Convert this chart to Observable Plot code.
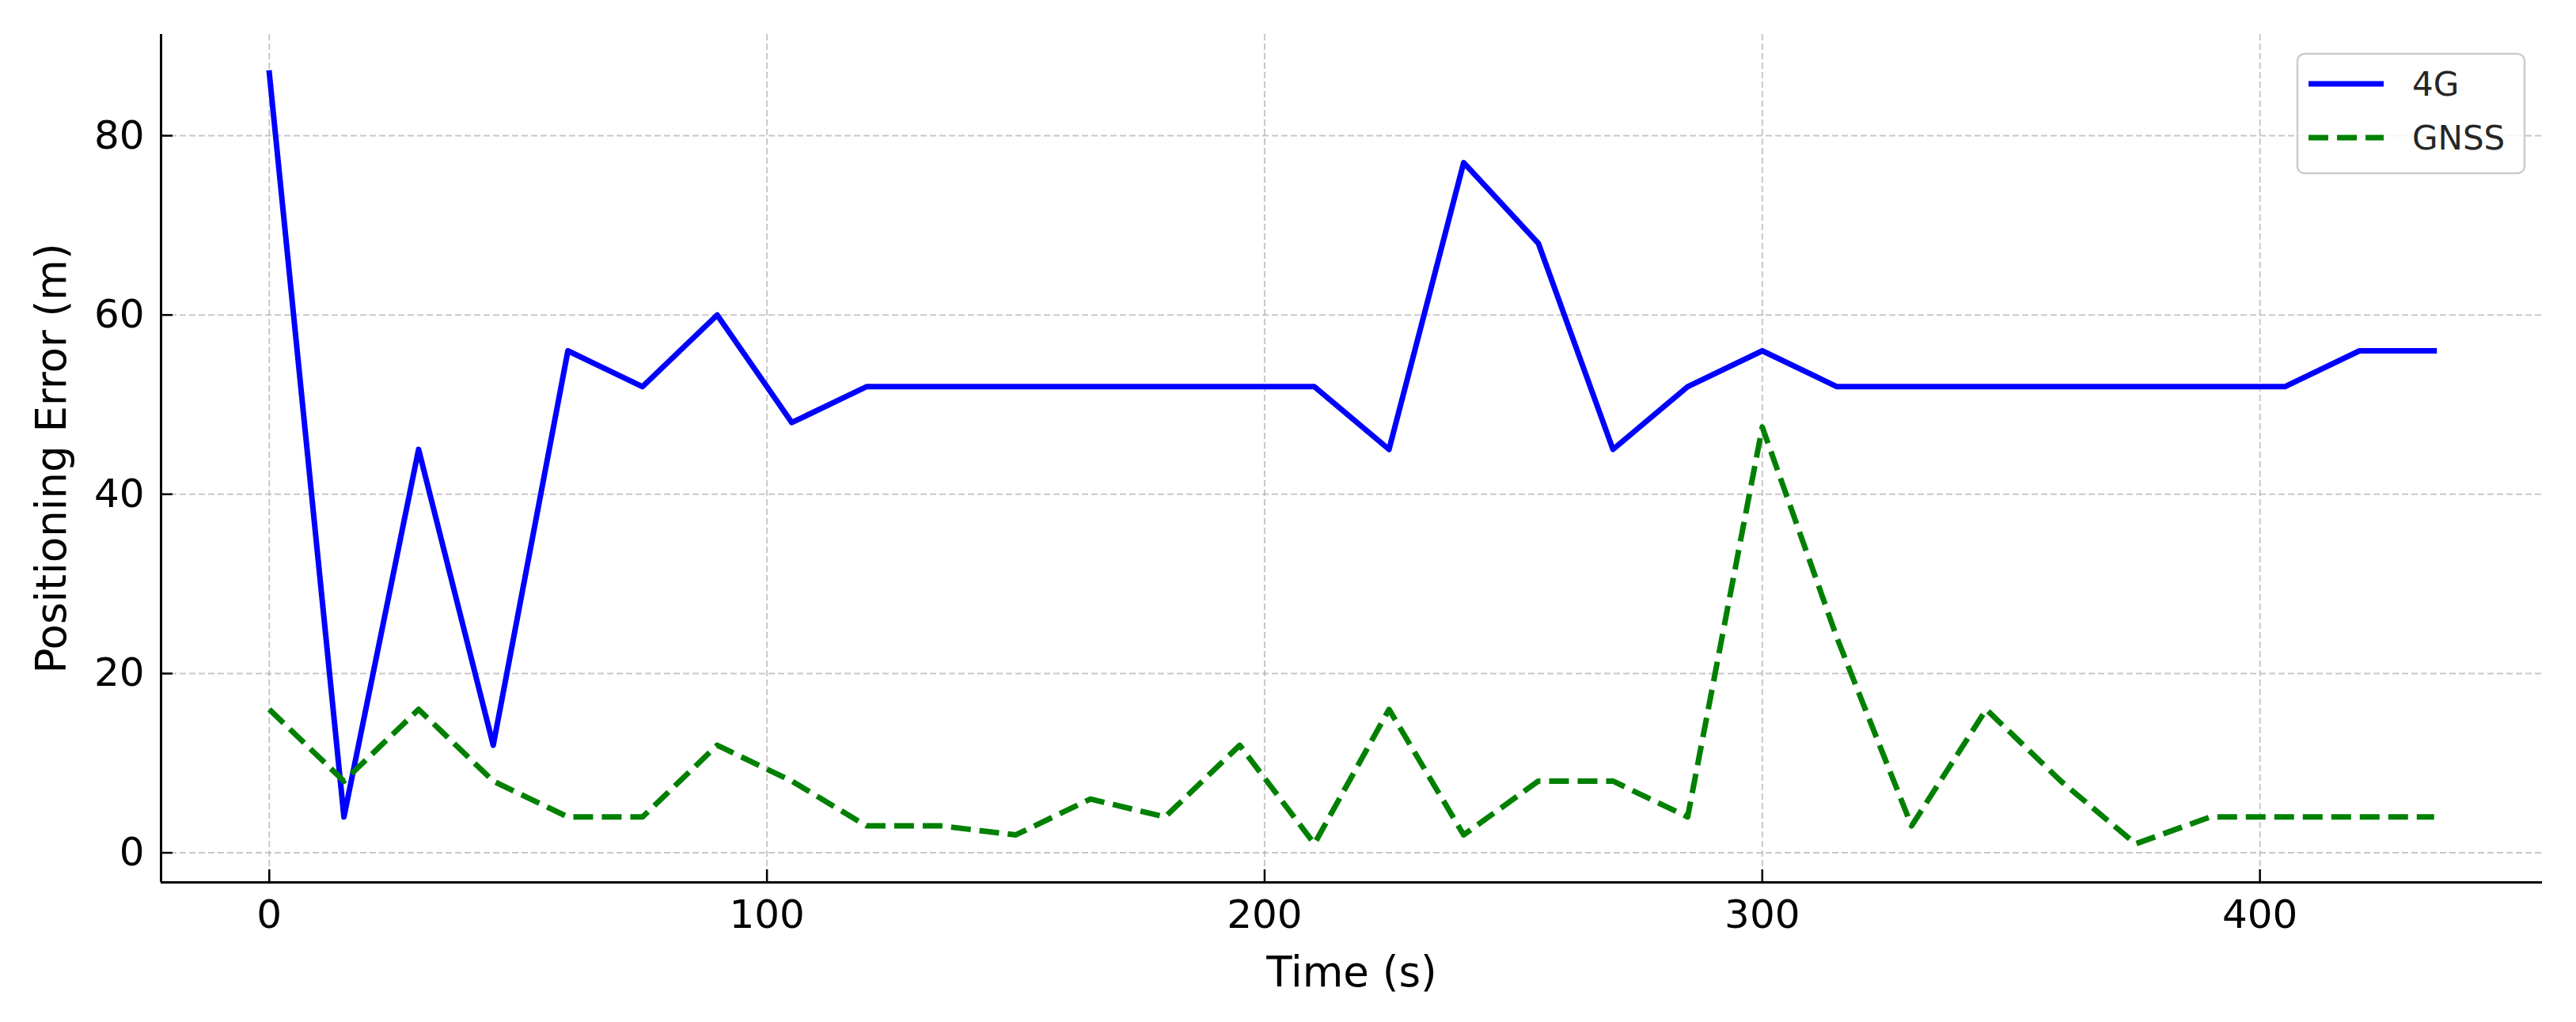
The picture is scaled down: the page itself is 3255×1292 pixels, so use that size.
<!DOCTYPE html>
<html>
<head>
<meta charset="utf-8">
<script src="https://cdn.jsdelivr.net/npm/d3@7"></script>
<script src="https://cdn.jsdelivr.net/npm/@observablehq/plot@0.6"></script>
<style>
  html, body { margin: 0; padding: 0; background: #fff; }
  #chart { position: relative; width: 3255px; height: 1292px; }
</style>
</head>
<body>
<div id="chart"></div>
<script>
// ---- data ----
const time = [0, 15, 30, 45, 60, 75, 90, 105, 120, 135, 150, 165, 180, 195, 210,
              225, 240, 255, 270, 285, 300, 315, 330, 345, 360, 375, 390, 405, 420, 435];
const err4G = [87, 4, 45, 12, 56, 52, 60, 48, 52, 52, 52, 52, 52, 52, 52,
               45, 77, 68, 45, 52, 56, 52, 52, 52, 52, 52, 52, 52, 56, 56];
const errGNSS = [16, 8, 16, 8, 4, 4, 12, 8, 3, 3, 2, 6, 4, 12, 1,
                 16, 2, 8, 8, 4, 47.5, 24, 3, 16, 8, 1, 4, 4, 4, 4];
const seriesNames = ["4G", "GNSS"];
const seriesColors = ["#0000ff", "#008000"];
const xTicks = [0, 100, 200, 300, 400];
const yTicks = [0, 20, 40, 60, 80];
const xLabel = "Time (s)";
const yLabel = "Positioning Error (m)";

// ---- tables ----
const rows4G = time.map((t, i) => ({t, v: err4G[i], s: seriesNames[0]}));
const rowsGNSS = time.map((t, i) => ({t, v: errGNSS[i], s: seriesNames[1]}));

// matplotlib-like 5% margins
function padded(values) {
  const lo = d3.min(values), hi = d3.max(values), p = (hi - lo) * 0.05;
  return [lo - p, hi + p];
}
const xDomain = padded(time);
const yDomain = padded(err4G.concat(errGNSS));

const W = 3255, H = 1292;
const mL = 203, mR = 43, mT = 43, mB = 177;
const gridStyle = {stroke: "#b0b0b0", strokeOpacity: 0.7, strokeWidth: 2, strokeDasharray: "8,4"};
const FONT = "DejaVu Sans";
const LW = 7;
const DASH = "25,11";

const chart = Plot.plot({
  width: W,
  height: H,
  marginLeft: mL,
  marginRight: mR,
  marginTop: mT,
  marginBottom: mB,
  style: {fontFamily: FONT, color: "#000", background: "#fff", overflow: "visible"},
  x: {domain: xDomain},
  y: {domain: yDomain},
  marks: [
    Plot.gridX(xTicks, gridStyle),
    Plot.gridY(yTicks, gridStyle),
    // tick labels
    Plot.axisX(xTicks, {tickSize: 0, tickPadding: 22, fontSize: 50, label: null}),
    Plot.axisY(yTicks, {tickSize: 0, tickPadding: 21, fontSize: 50, label: null}),
    // inward ticks
    Plot.axisX(xTicks, {tickSize: 16, dy: -16, tickFormat: () => "", label: null, strokeWidth: 2.5}),
    Plot.axisY(yTicks, {tickSize: 15, dx: 15, tickFormat: () => "", label: null, strokeWidth: 2.5}),
    // spines (left and bottom)
    Plot.ruleX([xDomain[0]], {stroke: "#000", strokeWidth: 3}),
    Plot.ruleY([yDomain[0]], {stroke: "#000", strokeWidth: 3}),
    // series
    Plot.line(rows4G, {x: "t", y: "v", stroke: seriesColors[0], strokeWidth: LW,
      strokeLinejoin: "round", strokeLinecap: "square"}),
    Plot.line(rowsGNSS, {x: "t", y: "v", stroke: seriesColors[1], strokeWidth: LW,
      strokeDasharray: DASH, strokeLinejoin: "round", strokeLinecap: "butt"}),
    // axis titles
    Plot.text([xLabel], {frameAnchor: "bottom", dy: 131, lineAnchor: "bottom",
      textAnchor: "middle", fontSize: 53, fill: "#000"}),
    Plot.text([yLabel], {frameAnchor: "left", dx: -158, rotate: -90, lineAnchor: "top",
      textAnchor: "middle", fontSize: 53, fill: "#000"})
  ]
});

document.getElementById("chart").appendChild(chart);

// ---- legend (upper right, inside axes) ----
const svg = d3.select(chart);
const lg = svg.append("g")
  .attr("font-family", FONT).attr("font-size", 42).attr("text-anchor", "start");
lg.append("rect")
  .attr("x", 2903).attr("y", 68).attr("width", 287).attr("height", 151)
  .attr("rx", 9).attr("ry", 9)
  .attr("fill", "#fff").attr("fill-opacity", 0.8)
  .attr("stroke", "#cccccc").attr("stroke-width", 2.5);
const legendRows = [
  {name: seriesNames[0], color: seriesColors[0], dash: null, y: 106},
  {name: seriesNames[1], color: seriesColors[1], dash: DASH, y: 174}
];
legendRows.forEach(r => {
  lg.append("line")
    .attr("x1", 2917).attr("x2", 3012).attr("y1", r.y).attr("y2", r.y)
    .attr("stroke", r.color).attr("stroke-width", LW)
    .attr("stroke-dasharray", r.dash);
  lg.append("text")
    .attr("x", 3048).attr("y", r.y + 15)
    .attr("text-anchor", "start")
    .attr("fill", "#262626")
    .text(r.name);
});
</script>
</body>
</html>
